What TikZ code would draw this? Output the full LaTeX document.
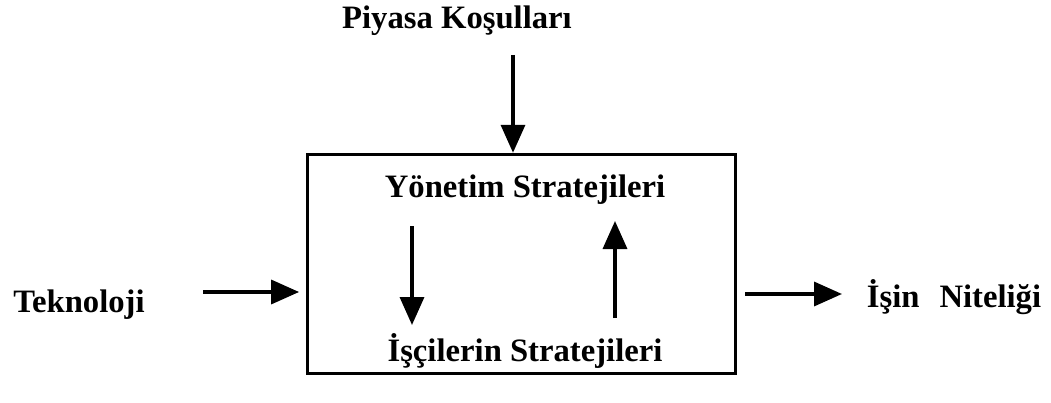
\documentclass[tikz,border=0pt]{standalone}
\usepackage{fontspec}
\setmainfont{Liberation Serif}
\usetikzlibrary{arrows.meta}
\tikzset{
  yazi/.style={font=\fontsize{24.5}{28}\selectfont\bfseries, inner sep=0pt, anchor=base},
  ok/.style={line width=2.6pt, -{Triangle[length=21pt,width=18pt]}}
}
\begin{document}
\begin{tikzpicture}[x=0.75pt,y=-0.75pt]
	\useasboundingbox (0,0) rectangle (1051,403);
	% kutu
	\node[draw, line width=2.6pt, minimum width=428*0.75pt, minimum height=219*0.75pt, inner sep=0pt] (kutu) at (521.5,264) {};
	\node[yazi] (piyasa) at (457,29) {Piyasa Koşulları};
	\node[yazi] (yonetim) at (525,198) {Yönetim Stratejileri};
	\node[yazi] (isci) at (525,361) {İşçilerin Stratejileri};
	\node[yazi] (teknoloji) at (79,312) {Teknoloji};
	\node[yazi] (nitelik) at (954,307) {İşin\hspace{15pt}Niteliği};
	% oklar
	\coordinate (p1) at (513,55);
	\coordinate (t1) at (203,292);
	\coordinate (n1) at (745,294);
	\draw[ok] (p1) -- (p1 |- kutu.north);
	\draw[ok] (t1) -- ([xshift=-5pt]t1 -| kutu.west);
	\draw[ok] (n1) -- (842,294);
	\draw[ok] (412,226) -- (412,325);
	\draw[ok] (615,318) -- (615,221);
\end{tikzpicture}
\end{document}
